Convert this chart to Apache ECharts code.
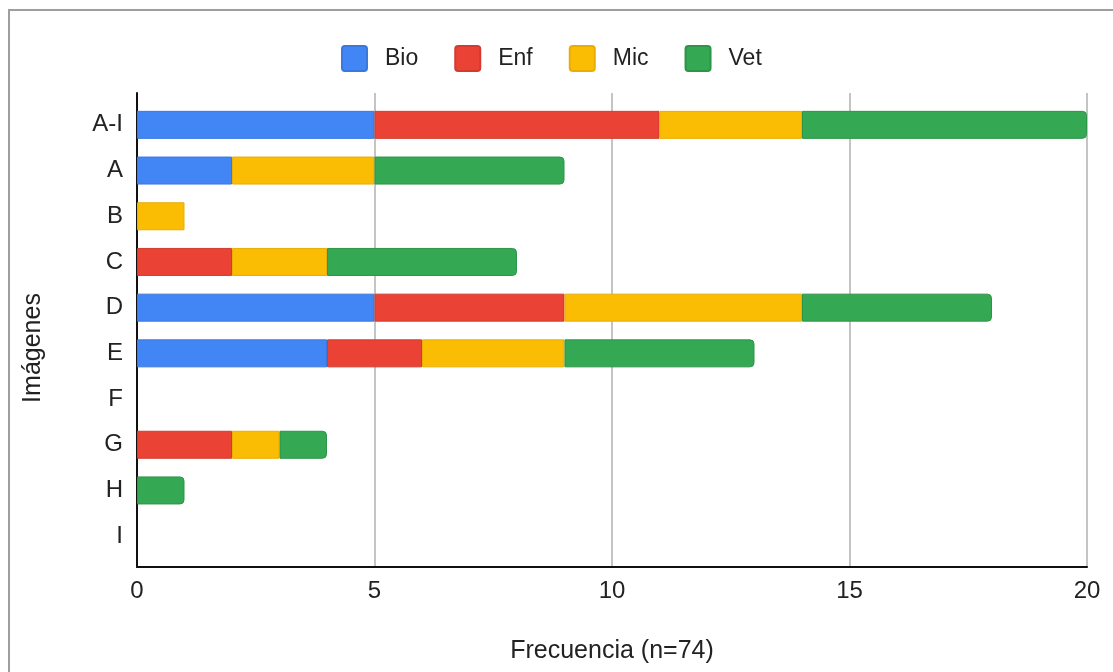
<!DOCTYPE html>
<html>
<head>
<meta charset="utf-8">
<script src="https://cdn.jsdelivr.net/npm/echarts@6/dist/echarts.min.js"></script>
<style>
  html, body { margin: 0; padding: 0; background: #fff; }
  #chart { width: 1113px; height: 672px; }
</style>
</head>
<body>
<div id="chart"></div>
<script>
// Image categories, top to bottom
const categories = ['A-I', 'A', 'B', 'C', 'D', 'E', 'F', 'G', 'H', 'I'];
// Frequency per group
const bio = [5, 2, 0, 0, 5, 4, 0, 0, 0, 0];
const enf = [6, 0, 0, 2, 4, 2, 0, 2, 0, 0];
const mic = [3, 3, 1, 2, 5, 3, 0, 1, 0, 0];
const vet = [6, 4, 0, 4, 4, 4, 0, 1, 1, 0];
const seriesNames = ['Bio', 'Enf', 'Mic', 'Vet'];
const xTicks = [0, 5, 10, 15, 20];

const colors = ['#4285F4', '#EA4335', '#FBBC04', '#34A853'];
const borders = ['#3b78dc', '#d33b2f', '#e8ae04', '#2d9449'];
const font = 'Arial, "Liberation Sans", sans-serif';
// small-radius square for legend keys
const keyIcon = 'path://M3,0L22,0Q25,0 25,3L25,22Q25,25 22,25L3,25Q0,25 0,22L0,3Q0,0 3,0Z';

const chart = echarts.init(document.getElementById('chart'), null, { renderer: 'canvas' });

const values = [bio, enf, mic, vet];
const series = values.map((arr, i) => ({
  name: seriesNames[i],
  type: 'bar',
  stack: 'total',
  xAxisIndex: 1,
  yAxisIndex: 1,
  barWidth: 28,
  data: arr.map(v => (v === 0 ? '-' : v)),
  itemStyle: {
    color: colors[i],
    borderColor: borders[i],
    borderWidth: 1,
    borderRadius: i === 3 ? [0, 4, 4, 0] : 0
  },
  emphasis: { disabled: true }
}));

chart.setOption({
  animation: false,
  textStyle: { fontFamily: font },
  graphic: [
    {
      type: 'rect',
      shape: { x: 9, y: 10, width: 1200, height: 800 },
      style: { fill: 'none', stroke: '#9e9e9e', lineWidth: 2 },
      z: 0
    },
    {
      type: 'text',
      x: 33,
      y: 348,
      rotation: Math.PI / 2,
      style: {
        text: 'Imágenes',
        font: '25px ' + font,
        fill: '#222',
        align: 'center',
        verticalAlign: 'middle'
      }
    }
  ],
  legend: {
    data: seriesNames.map(n => ({ name: n, icon: keyIcon })),
    left: 341,
    top: 45,
    padding: 0,
    itemWidth: 25,
    itemHeight: 25,
    itemGap: 36,
    textStyle: { fontSize: 23, color: '#222', fontFamily: font, padding: [0, 0, 0, 13] }
  },
  grid: [
    { left: 137, right: 26, top: 93, bottom: 105 },
    { left: 137, right: 26, top: 102, bottom: 113 }
  ],
  xAxis: [
    {
      gridIndex: 0,
      type: 'value',
      min: xTicks[0],
      max: xTicks[xTicks.length - 1],
      interval: 5,
      name: 'Frecuencia (n=74)',
      nameLocation: 'middle',
      nameGap: 72,
      nameTextStyle: { fontSize: 25, color: '#222', fontFamily: font },
      axisLine: { show: true, lineStyle: { color: '#111', width: 2 } },
      axisTick: { show: false },
      axisLabel: { fontSize: 24, color: '#222', margin: 12, fontFamily: font },
      splitLine: { show: true, lineStyle: { color: '#c4c4c4', width: 2 } }
    },
    {
      gridIndex: 1,
      type: 'value',
      min: xTicks[0],
      max: xTicks[xTicks.length - 1],
      show: false
    }
  ],
  yAxis: [
    {
      gridIndex: 0,
      type: 'value',
      axisLine: { show: true, lineStyle: { color: '#111', width: 2 } },
      axisTick: { show: false },
      axisLabel: { show: false },
      splitLine: { show: false }
    },
    {
      gridIndex: 1,
      type: 'category',
      inverse: true,
      data: categories,
      axisLine: { show: false },
      axisTick: { show: false },
      axisLabel: { fontSize: 24, color: '#222', margin: 14, fontFamily: font },
      splitLine: { show: false }
    }
  ],
  series: series
});
</script>
</body>
</html>
